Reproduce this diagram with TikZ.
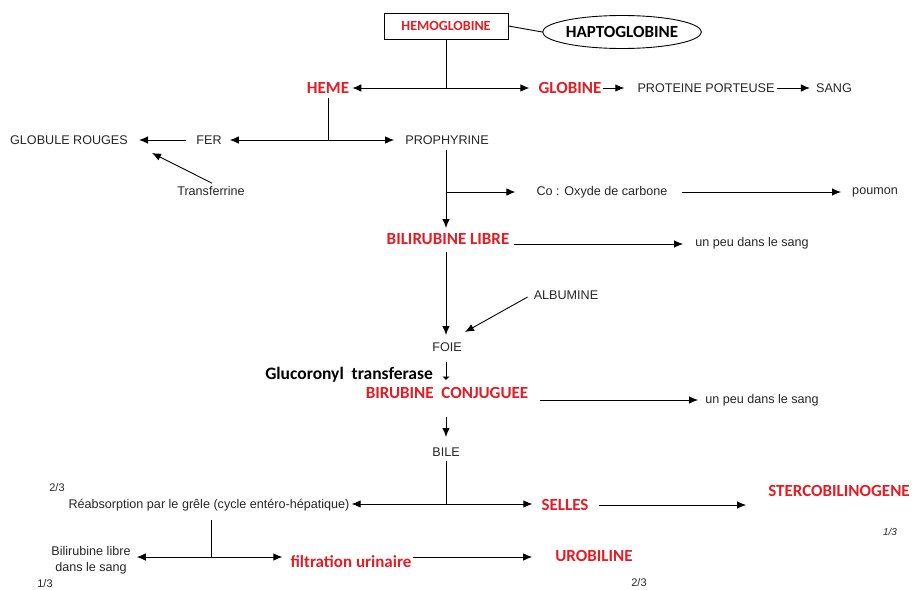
\documentclass[tikz,border=0pt]{standalone}
\usepackage{fontspec}
\setmainfont{Liberation Sans}
\newfontfamily\carl{Carlito}
\usetikzlibrary{arrows.meta,shapes.geometric}
\definecolor{labred}{RGB}{228,28,36}
\begin{document}
\begin{tikzpicture}[x=1pt,y=-1pt,
  txt/.style={font=\fontsize{12.6}{14}\selectfont, inner sep=0pt, text=black!85},
  rlab/.style={font=\carl\bfseries\fontsize{17}{19}\selectfont, inner sep=0pt, text=labred},
  blab/.style={font=\carl\bfseries\fontsize{17.5}{19}\selectfont, inner sep=0pt, text=black},
  ln/.style={line width=0.9pt, draw=black},
  arr/.style={ln, -{Latex[length=9pt,width=7.5pt]}},
  arrb/.style={ln, {Latex[length=9pt,width=7.5pt]}-{Latex[length=9pt,width=7.5pt]}},
]
\useasboundingbox (0,0) rectangle (912,589);

% top
\node[draw, line width=0.9pt, minimum width=124pt, minimum height=26pt, inner sep=0pt,
  font=\carl\bfseries\fontsize{14}{16}\selectfont, text=labred] (hb) at (446,26) {HEMOGLOBINE};
\node[draw, ellipse, line width=0.9pt, minimum width=150pt, minimum height=33pt, inner sep=0pt,
  font=\carl\bfseries\fontsize{17}{19}\selectfont] (hapto) at (622,32) {HAPTOGLOBINE};
\draw[ln] (hb.east) -- (hapto.west);

\node[rlab] (heme) at (328,88) {HEME};
\node[rlab] (glob) at (570,88) {GLOBINE};
\node[txt] (prot) at (706,88) {PROTEINE PORTEUSE};
\node[txt] (sang) at (834,88) {SANG};
\draw[ln] (hb.south) -- (hb.south |- heme);
\draw[arrb, shorten <=3pt, shorten >=9pt] (heme.east) -- (glob.west);
\draw[arr, shorten <=1pt, shorten >=13pt] (glob.east) -- (prot.west);
\draw[arr, shorten <=2pt, shorten >=6pt] (prot.east) -- (sang.west);

% row 2
\node[txt] (gr) at (69,140) {GLOBULE ROUGES};
\node[txt] (fer) at (209,140) {FER};
\node[txt] (proph) at (447,140) {PROPHYRINE};
\node[txt] (trans) at (211,191) {Transferrine};
\draw[arr, shorten <=10pt, shorten >=11pt] (fer.west) -- (gr.east);
\draw[arrb, shorten <=8pt, shorten >=11pt] (fer.east) -- (proph.west);
\draw[ln] ([yshift=-4pt]heme.south) -- (heme.south |- fer);
\coordinate (transtip) at (152,153);
\draw[arr] ([shift={(1pt,3pt)}]trans.north) -- (transtip);

% porphyrine branch
\coordinate (cojoin) at (446,192);
\node[txt] (co) at (602,192) {Co : Oxyde de carbone};
\node[txt] (poumon) at (875,192) {poumon};
\draw[arr, shorten >=21pt] (cojoin) -- (co.west);
\draw[arr, shorten <=14pt, shorten >=11pt] (co.east) -- (poumon.west);

\node[rlab] (bl) at (448,239) {BILIRUBINE LIBRE};
\node[txt] (peu1) at (752,243) {un peu dans le sang};
\draw[arr] (446,150) -- (446,228);
\draw[arr, shorten <=5pt, shorten >=12pt] ([yshift=-5pt]bl.east) -- ([yshift=-1pt]peu1.west);

% foie
\node[txt] (foie) at (447,347) {FOIE};
\node[txt] (alb) at (566,295) {ALBUMINE};
\draw[arr] (446,252) -- (446,335);
\coordinate (albtip) at (465,332);
\draw[arr] ([xshift=-6pt,yshift=-2pt]alb.west) -- (albtip);

\node[blab, anchor=east] (gluc) at (433,375) {Glucoronyl\ \ transferase};
\draw[ln, -{Latex[length=3.5pt,width=8pt]}] (446,362) -- (446,380);

\node[rlab] (bc) at (447,393) {BIRUBINE\ \ CONJUGUEE};
\node[txt] (peu2) at (762,400) {un peu dans le sang};
\draw[arr, shorten <=12pt, shorten >=7pt] ([yshift=-7pt]bc.east) -- (peu2.west);

\node[txt] (bile) at (446,452) {BILE};
\draw[arr] (446,417) -- (446,437);

% bottom
\node[txt] (reab) at (209,505) {Réabsorption par le grêle (cycle entéro-hépatique)};
\node[rlab] (selles) at (565,505) {SELLES};
\node[rlab] (sterco) at (839,491) {STERCOBILINOGENE};
\draw[ln] ([yshift=-4pt]bile.south) -- (446,504);
\draw[arrb, shorten <=2pt, shorten >=9pt] ([yshift=1pt]reab.east) -- ([yshift=1pt]selles.west);
\draw[arr, shorten <=10pt, shorten >=22pt] (selles.east) -- (sterco.west |- selles.east);

\node[txt, font=\fontsize{11}{13}\selectfont] (f1) at (57,488) {2/3};
\node[txt, align=center, font=\fontsize{12.6}{16}\selectfont] (bld) at (91,560) {Bilirubine libre\\dans le sang};
\node[rlab] (filt) at (351,562) {filtration urinaire};
\node[rlab] (urob) at (594,556) {UROBILINE};
\draw[ln] (211,520) -- (211,557);
\draw[arrb, shorten <=6pt, shorten >=8pt] ([yshift=3pt]bld.east) -- ([yshift=5pt]filt.west);
\draw[arr, shorten <=1pt, shorten >=23pt] ([yshift=5pt]filt.east) -- ([yshift=5pt]filt.east -| urob.west);

\node[txt, font=\fontsize{11}{13}\selectfont] (f2) at (45,584) {1/3};
\node[txt, font=\fontsize{11}{13}\selectfont] (f3) at (639,583) {2/3};
\node[txt, font=\itshape\fontsize{10}{12}\selectfont] (f4) at (890,532) {1/3};
\end{tikzpicture}
\end{document}
